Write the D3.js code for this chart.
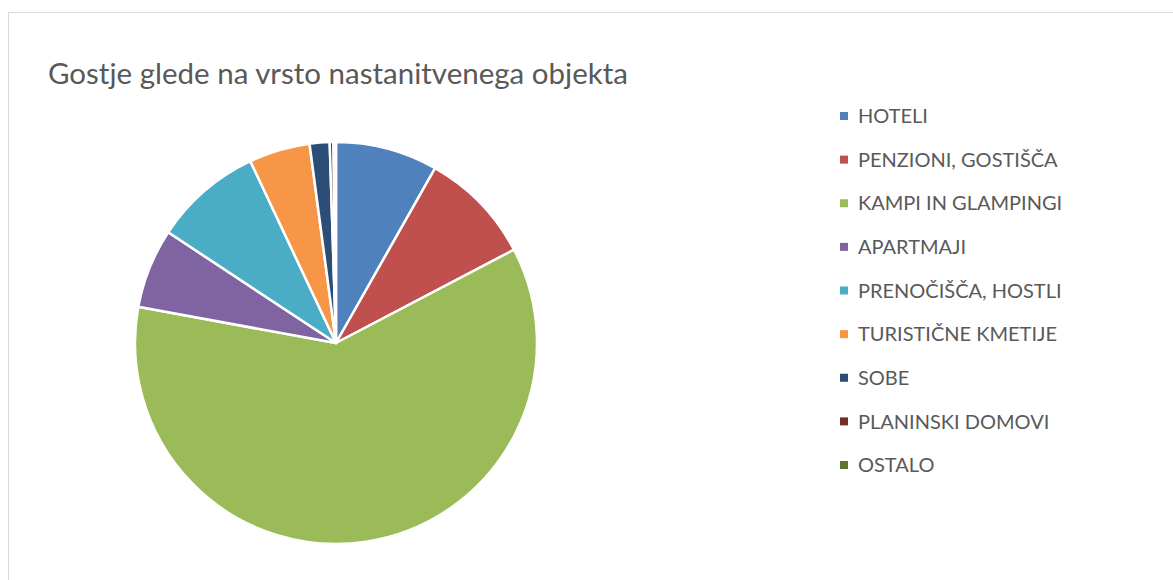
<!DOCTYPE html>
<html>
<head>
<meta charset="utf-8">
<script src="https://cdn.jsdelivr.net/npm/d3@7"></script>
<style>
  html, body { margin: 0; padding: 0; background: #fff; }
  svg { display: block; font-family: Lato, "Open Sans", sans-serif; }
</style>
</head>
<body>
<div id="chart"></div>
<script>
  const W = 1173;
  const H = 580;

  // categories + shares (%)
  const categories = [
    "HOTELI",
    "PENZIONI, GOSTIŠČA",
    "KAMPI IN GLAMPINGI",
    "APARTMAJI",
    "PRENOČIŠČA, HOSTLI",
    "TURISTIČNE KMETIJE",
    "SOBE",
    "PLANINSKI DOMOVI",
    "OSTALO"
  ];
  const shares = [8.2, 9.1, 60.5, 6.4, 8.7, 4.9, 1.6, 0.3, 0.2];
  const colors = ["#4F81BD", "#C0504D", "#9BBB59", "#8064A2", "#4BACC6",
                  "#F79646", "#2C4D75", "#772C2A", "#5F7530"];

  const data = categories.map((c, i) => ({ name: c, value: shares[i] }));

  const svg = d3.select("#chart").append("svg")
    .attr("width", W)
    .attr("height", H);

  // chart area border
  svg.append("rect")
    .attr("x", 8.5).attr("y", 12.5)
    .attr("width", W + 20).attr("height", H + 20)
    .attr("fill", "none")
    .attr("stroke", "#d9d9d9")
    .attr("stroke-width", 1);

  svg.append("text")
    .attr("x", 48).attr("y", 84)
    .attr("fill", "#595959")
    .style("font-size", "29.5px")
    .text("Gostje glede na vrsto nastanitvenega objekta");

  // pie
  const cx = 336, cy = 343, R = 201;
  const color = d3.scaleOrdinal().domain(categories).range(colors);
  const pie = d3.pie().value(d => d.value).sort(null);
  const arc = d3.arc().innerRadius(0).outerRadius(R);

  svg.append("g")
    .attr("transform", `translate(${cx},${cy})`)
    .selectAll("path")
    .data(pie(data))
    .join("path")
    .attr("d", arc)
    .attr("fill", d => color(d.data.name))
    .attr("stroke", "#fff")
    .attr("stroke-width", 2.5)
    .attr("stroke-linejoin", "round");

  // legend
  const ly = d3.scalePoint().domain(categories).range([116, 465]);
  const legend = svg.append("g")
    .selectAll("g")
    .data(categories)
    .join("g")
    .attr("transform", d => `translate(840,${ly(d)})`);

  legend.append("rect")
    .attr("x", 0).attr("y", -4)
    .attr("width", 8).attr("height", 8)
    .attr("fill", d => color(d));

  legend.append("text")
    .attr("x", 18).attr("y", 0)
    .attr("dy", "0.36em")
    .attr("fill", "#595959")
    .style("font-size", "20px")
    .text(d => d);
</script>
</body>
</html>
